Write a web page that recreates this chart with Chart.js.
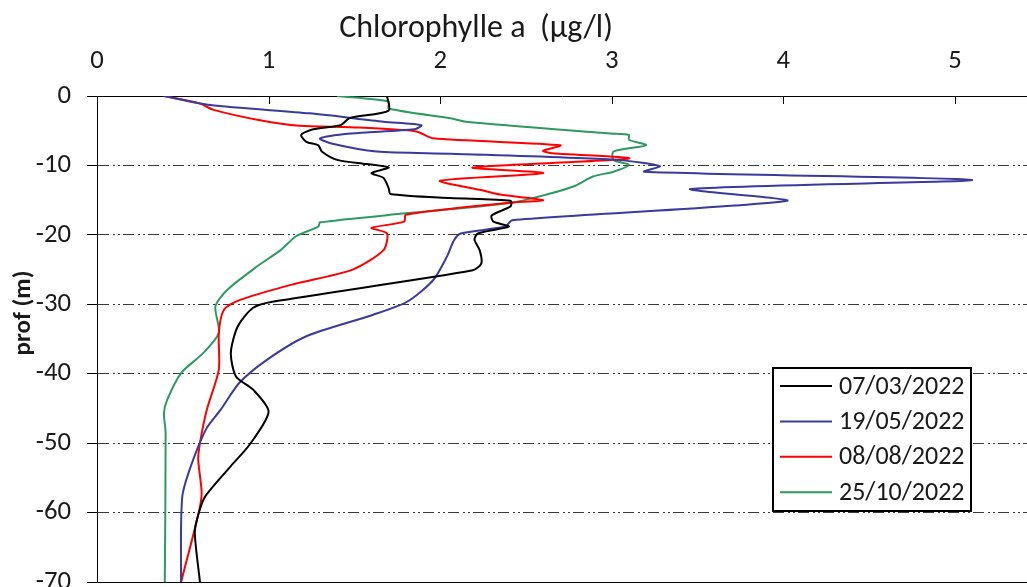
<!DOCTYPE html>
<html lang="fr">
<head>
<meta charset="UTF-8">
<title>Chlorophylle a</title>
<script src="https://cdn.jsdelivr.net/npm/chart.js"></script>
<style>
    html, body { margin: 0; padding: 0; background: #fff; }
    .wrap { width: 1027px; height: 587px; }
</style>
</head>
<body>
<div class="wrap"><canvas id="chl"></canvas></div>
<script>
// profils de chlorophylle a : profondeur (m) et valeur (µg/l)
const seriesLabels = ['07/03/2022', '19/05/2022', '08/08/2022', '25/10/2022'];
const seriesColors = ['#000000', '#3a3a9c', '#ff0000', '#2e9a62'];

const depthMar = [0, -2.1, -3.2, -4.2, -4.8, -5.6, -6.6, -7.1, -8.0, -9.2, -9.8, -10.3, -11.1, -11.8, -13.3, -14.1, -14.7, -15.1, -15.9, -17.2, -18.1, -18.8, -19.8, -20.7, -22.2, -24.1, -25.1, -29.6, -30.5, -33.2, -37.0, -40.4, -42.3, -45.5, -50.2, -53.3, -57.7, -60.3, -62.9, -70];
const chlMar = [1.69, 1.70, 1.47, 1.42, 1.26, 1.19, 1.22, 1.29, 1.31, 1.40, 1.57, 1.70, 1.60, 1.67, 1.70, 1.71, 2.06, 2.41, 2.41, 2.30, 2.31, 2.40, 2.22, 2.20, 2.23, 2.24, 2.19, 1.03, 0.91, 0.82, 0.78, 0.81, 0.91, 1.00, 0.89, 0.78, 0.63, 0.59, 0.57, 0.60];

const depthMay = [0, -1.3, -2.5, -3.7, -4.2, -4.8, -5.4, -6.1, -6.8, -8.0, -8.3, -9.2, -10.1, -10.9, -12.1, -13.4, -15.1, -17.9, -18.8, -19.8, -20.8, -23.1, -26.5, -29.6, -31.5, -34.6, -38.0, -41.3, -45.2, -47.8, -52.4, -57.2, -62.0, -70];
const chlMay = [0.39, 0.66, 1.24, 1.67, 1.89, 1.85, 1.48, 1.30, 1.36, 1.63, 2.06, 3.03, 3.28, 3.19, 5.10, 3.46, 4.02, 2.42, 2.38, 2.12, 2.08, 2.04, 1.96, 1.81, 1.61, 1.22, 0.99, 0.83, 0.72, 0.64, 0.56, 0.50, 0.49, 0.49];

const depthAug = [0, -1.1, -2.0, -3.5, -4.3, -4.5, -5.1, -6.1, -7.1, -7.9, -8.2, -9.0, -10.3, -11.1, -12.2, -13.5, -14.2, -15.0, -15.4, -17.1, -18.1, -19.0, -19.8, -22.2, -25.0, -27.2, -29.4, -30.8, -34.1, -39.4, -45.2, -50.0, -52.4, -57.2, -60.3, -70];
const chlAug = [0.39, 0.60, 0.68, 0.95, 1.18, 1.48, 1.86, 1.96, 2.70, 2.60, 2.64, 3.10, 2.19, 2.60, 2.00, 2.23, 2.35, 2.60, 2.39, 1.80, 1.79, 1.60, 1.69, 1.67, 1.49, 1.13, 0.83, 0.74, 0.71, 0.71, 0.64, 0.60, 0.59, 0.61, 0.59, 0.49];

const depthOct = [0, -0.8, -1.8, -3.2, -3.7, -5.4, -5.6, -6.3, -7.1, -8.0, -9.2, -9.9, -10.9, -11.6, -13.0, -14.2, -15.4, -16.9, -18.2, -18.8, -20.2, -22.2, -24.6, -27.9, -30.3, -34.1, -37.0, -39.9, -43.7, -45.7, -48.5, -70];
const chlOct = [1.40, 1.70, 1.70, 2.06, 2.15, 2.99, 3.10, 3.10, 3.20, 3.01, 3.01, 3.10, 3.01, 2.89, 2.78, 2.62, 2.41, 1.80, 1.30, 1.29, 1.16, 1.07, 0.93, 0.76, 0.69, 0.71, 0.62, 0.49, 0.41, 0.39, 0.40, 0.395];

const depthTicks = [0, -10, -20, -30, -40, -50, -60, -70];
const chlTicks = [0, 1, 2, 3, 4, 5];

const FONT = "'Carlito', 'Open Sans', sans-serif";
const TEXT = '#1a1a1a';

function pairs(vals, depths) {
    return vals.map((v, i) => ({ x: v, y: depths[i] }));
}

const profiles = [
    pairs(chlMar, depthMar),
    pairs(chlMay, depthMay),
    pairs(chlAug, depthAug),
    pairs(chlOct, depthOct)
];

// titres, petites graduations vers l'intérieur, ligne du bas et légende encadrée
const decorPlugin = {
    id: 'decor',
    afterDraw(chart) {
        const { ctx, chartArea, scales: { x } } = chart;
        ctx.save();

        ctx.strokeStyle = '#000';
        ctx.lineWidth = 1;
        chlTicks.forEach(v => {
            const px = Math.round(x.getPixelForValue(v)) + 0.5;
            ctx.beginPath();
            ctx.moveTo(px, chartArea.top);
            ctx.lineTo(px, chartArea.top + 8);
            ctx.stroke();
        });
        const yb = Math.round(chartArea.bottom) + 0.5;
        ctx.beginPath();
        ctx.moveTo(chartArea.left, yb);
        ctx.lineTo(chartArea.right, yb);
        ctx.stroke();

        ctx.fillStyle = TEXT;
        ctx.font = '32px ' + FONT;
        ctx.textAlign = 'center';
        ctx.textBaseline = 'middle';
        ctx.fillText('Chlorophylle a  (\u00b5g/l)', 476, 29);

        ctx.save();
        ctx.translate(24, 313);
        ctx.rotate(-Math.PI / 2);
        ctx.font = 'bold 25px ' + FONT;
        ctx.fillText('prof (m)', 0, 0);
        ctx.restore();

        // légende
        const bx = 773, by = 368, bw = 198, bh = 143;
        ctx.fillStyle = '#fff';
        ctx.fillRect(bx, by, bw, bh);
        ctx.lineWidth = 2;
        ctx.strokeStyle = '#000';
        ctx.strokeRect(bx, by, bw, bh);
        ctx.font = '26px ' + FONT;
        ctx.textAlign = 'left';
        ctx.textBaseline = 'middle';
        chart.data.datasets.forEach((ds, i) => {
            const ly = 386 + i * 35.4;
            ctx.strokeStyle = ds.borderColor;
            ctx.lineWidth = 2;
            ctx.beginPath();
            ctx.moveTo(780, ly);
            ctx.lineTo(832, ly);
            ctx.stroke();
            ctx.fillStyle = TEXT;
            ctx.fillText(ds.label, 839, ly + 1);
        });
        ctx.restore();
    }
};

const chart = new Chart(document.getElementById('chl').getContext('2d'), {
    type: 'scatter',
    data: {
        datasets: profiles.map((pts, i) => ({
            label: seriesLabels[i],
            data: pts,
            showLine: true,
            borderColor: seriesColors[i],
            backgroundColor: seriesColors[i],
            borderWidth: 2,
            pointRadius: 0,
            tension: 0.25
        }))
    },
    options: {
        responsive: true,
        maintainAspectRatio: false,
        animation: false,
        layout: { padding: { top: 0, right: 0, bottom: 5, left: 0 } },
        plugins: {
            legend: { display: false },
            tooltip: { enabled: false }
        },
        scales: {
            x: {
                type: 'linear',
                position: 'top',
                min: 0,
                max: 5.42,
                afterFit(scale) {
                    scale.height = 96;
                    scale.paddingLeft = 0;
                    scale.paddingRight = 0;
                },
                afterBuildTicks(scale) {
                    scale.ticks = chlTicks.map(v => ({ value: v }));
                },
                grid: { drawOnChartArea: false, drawTicks: false },
                border: { color: '#000', width: 1 },
                ticks: {
                    padding: 19,
                    color: TEXT,
                    font: { family: FONT, size: 26.7 },
                    maxRotation: 0
                }
            },
            y: {
                type: 'linear',
                min: -70,
                max: 0,
                afterFit(scale) {
                    scale.width = 97;
                    scale.paddingTop = 0;
                    scale.paddingBottom = 0;
                },
                afterBuildTicks(scale) {
                    scale.ticks = depthTicks.map(v => ({ value: v }));
                },
                grid: {
                    color: c => (c.tick && (c.tick.value === 0 || c.tick.value === -70)) ? 'rgba(0,0,0,0)' : '#3a3a3a',
                    tickColor: '#000',
                    tickLength: 10,
                    lineWidth: 1
                },
                border: { color: '#000', width: 1, dash: [11, 4, 2, 3, 2, 3] },
                ticks: {
                    padding: 16,
                    color: TEXT,
                    font: { family: FONT, size: 26.7 }
                }
            }
        }
    },
    plugins: [decorPlugin]
});
</script>
</body>
</html>
